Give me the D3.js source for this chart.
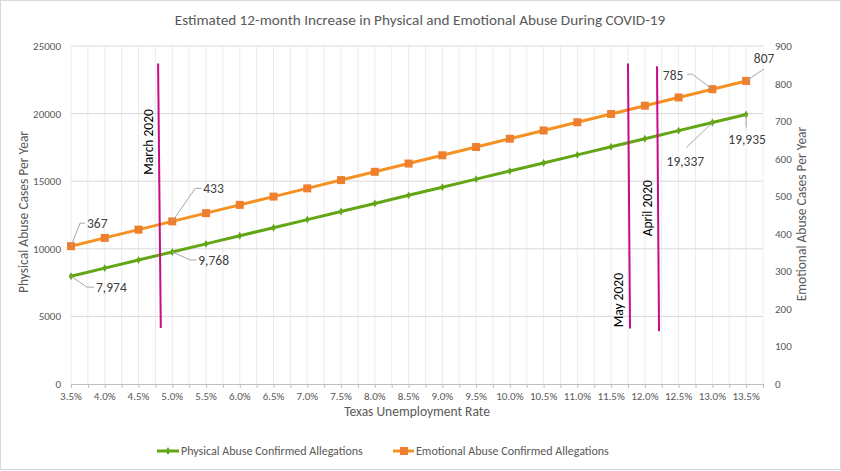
<!DOCTYPE html>
<html>
<head>
<meta charset="utf-8">
<script src="https://cdn.jsdelivr.net/npm/d3@7"></script>
<style>
  body { margin: 0; background: #fff; }
  svg { display: block; }
  text { font-family: Carlito, Calibri, Lato, "Open Sans", sans-serif; }
</style>
</head>
<body>
<svg id="chart"></svg>
<script>
// data
const rates = [3.5, 4.0, 4.5, 5.0, 5.5, 6.0, 6.5, 7.0, 7.5, 8.0, 8.5, 9.0, 9.5, 10.0, 10.5, 11.0, 11.5, 12.0, 12.5, 13.0, 13.5];
const physical = [7974, 8572, 9170, 9768, 10366, 10964, 11562, 12160, 12758, 13356, 13955, 14553, 15151, 15749, 16347, 16945, 17543, 18141, 18739, 19337, 19935];
const emotional = [367, 389, 411, 433, 455, 477, 499, 521, 543, 565, 587, 609, 631, 653, 675, 697, 719, 741, 763, 785, 807];
const leftTicks = [0, 5000, 10000, 15000, 20000, 25000];
const rightTicks = [0, 100, 200, 300, 400, 500, 600, 700, 800, 900];
const seriesNames = ["Physical Abuse Confirmed Allegations", "Emotional Abuse Confirmed Allegations"];
// month markers: unemployment rate at top/bottom of the line, extent on left axis
const months = ["March 2020", "May 2020", "April 2020"];
const monthRateTop = [4.79, 11.75, 12.18];
const monthRateBottom = [4.83, 11.78, 12.21];
const monthTop = [23700, 23700, 23500];
const monthBottom = [4150, 4100, 3900];
const monthLabelAt = [17900, 6200, 13000];
// labelled points: series, index
const labelled = [["e", 0], ["p", 0], ["e", 3], ["p", 3], ["e", 19], ["e", 20], ["p", 19], ["p", 20]];

const width = 841, height = 471;
const margin = { top: 46, right: 78, bottom: 87, left: 71 };
const innerWidth = width - margin.left - margin.right;
const innerHeight = height - margin.top - margin.bottom;

const green = "#62a515", orange = "#f59022", orangeMarker = "#ee7f2f", magenta = "#cc0a88";
const grey = "#595959";

const svg = d3.select("#chart").attr("width", width).attr("height", height);

svg.append("rect").attr("x", 0.5).attr("y", 0.5).attr("width", width - 1).attr("height", height - 2)
  .attr("fill", "#fff").attr("stroke", "#d9d9d9");

const g = svg.append("g").attr("transform", `translate(${margin.left},${margin.top})`);

const x = d3.scaleLinear().domain([3.5, 13.75]).range([0, innerWidth]);
const yL = d3.scaleLinear().domain([0, 25000]).range([innerHeight, 0]);
const yR = d3.scaleLinear().domain([0, 900]).range([innerHeight, 0]);

// vertical gridlines every half category
const halfSteps = d3.range(0, 42).map(i => 3.5 + i * 0.25);
g.selectAll(".vgrid").data(halfSteps).join("line").attr("class", "vgrid")
  .attr("x1", d => x(d)).attr("x2", d => x(d)).attr("y1", 0).attr("y2", innerHeight)
  .attr("stroke", "#ececec").attr("stroke-width", 1);

// horizontal gridlines
g.selectAll(".hgrid").data(leftTicks.slice(1)).join("line").attr("class", "hgrid")
  .attr("x1", 0).attr("x2", innerWidth).attr("y1", d => yL(d)).attr("y2", d => yL(d))
  .attr("stroke", "#d9d9d9");

// x axis (ticks only, labels below)
const xAxis = d3.axisBottom(x).tickValues(halfSteps).tickSize(4).tickFormat("");
const xg = g.append("g").attr("transform", `translate(0,${innerHeight})`).call(xAxis);
xg.select(".domain").attr("stroke", "#bfbfbf");
xg.selectAll(".tick line").attr("stroke", "#bfbfbf");
xg.selectAll(".tick text").remove();
g.selectAll(".xlab").data(rates).join("text").attr("class", "xlab")
  .attr("x", d => x(d)).attr("y", innerHeight + 16).attr("text-anchor", "middle")
  .attr("font-size", 11).attr("fill", grey).text(d => d.toFixed(1) + "%");

// y axes labels
g.selectAll(".ylab").data(leftTicks).join("text").attr("class", "ylab")
  .attr("x", -10).attr("y", d => yL(d) + 4).attr("text-anchor", "end")
  .attr("font-size", 11).attr("fill", grey).text(d => d);
g.selectAll(".yrlab").data(rightTicks).join("text").attr("class", "yrlab")
  .attr("x", innerWidth + 12).attr("y", d => yR(d) + 4).attr("text-anchor", "start")
  .attr("font-size", 11).attr("fill", grey).text(d => d);

// axis titles
svg.append("text").attr("transform", `translate(28,${margin.top + innerHeight / 2 - 3}) rotate(-90)`)
  .attr("text-anchor", "middle").attr("font-size", 13.5).attr("fill", grey)
  .text("Physical Abuse Cases Per Year");
svg.append("text").attr("transform", `translate(806,${margin.top + innerHeight / 2 - 1}) rotate(-90)`)
  .attr("text-anchor", "middle").attr("font-size", 13.5).attr("fill", grey)
  .text("Emotional Abuse Cases Per Year");
svg.append("text").attr("x", 417).attr("y", 416).attr("text-anchor", "middle")
  .attr("font-size", 13.5).attr("fill", grey).text("Texas Unemployment Rate");

// title
svg.append("text").attr("x", 420).attr("y", 25).attr("text-anchor", "middle")
  .attr("font-size", 15.2).attr("fill", grey)
  .text("Estimated 12-month Increase in Physical and Emotional Abuse During COVID-19");

// lines
const pData = rates.map((r, i) => [r, physical[i]]);
const eData = rates.map((r, i) => [r, emotional[i]]);
g.append("path").datum(pData).attr("fill", "none").attr("stroke", green).attr("stroke-width", 3)
  .attr("d", d3.line().x(d => x(d[0])).y(d => yL(d[1])));
g.append("path").datum(eData).attr("fill", "none").attr("stroke", orange).attr("stroke-width", 3)
  .attr("d", d3.line().x(d => x(d[0])).y(d => yR(d[1])));

const diamond = d3.symbol().type(d3.symbolDiamond).size(18);
g.selectAll(".pm").data(pData).join("path").attr("class", "pm")
  .attr("transform", d => `translate(${x(d[0])},${yL(d[1])})`).attr("d", diamond).attr("fill", green);
g.selectAll(".em").data(eData).join("rect").attr("class", "em")
  .attr("x", d => x(d[0]) - 4).attr("y", d => yR(d[1]) - 4).attr("width", 8).attr("height", 8)
  .attr("fill", orangeMarker);

// month markers
months.forEach((m, i) => {
  g.append("line")
    .attr("x1", x(monthRateTop[i])).attr("y1", yL(monthTop[i]))
    .attr("x2", x(monthRateBottom[i])).attr("y2", yL(monthBottom[i]))
    .attr("stroke", magenta).attr("stroke-width", 2);
  const lx = (x(monthRateTop[i]) + x(monthRateBottom[i])) / 2 - 6;
  g.append("text").attr("transform", `translate(${lx},${yL(monthLabelAt[i])}) rotate(-90)`)
    .attr("text-anchor", "middle").attr("font-size", 13.5).attr("fill", "#000")
    .text(m);
});

// data labels with leader lines (offsets in px from the point)
const leaders = [
  { path: [[0, 0], [9, -23], [14, -23]], tx: 16, ty: -23, anchor: "start" },
  { path: [[0, 0], [16, 11], [23, 11]], tx: 25, ty: 11, anchor: "start" },
  { path: [[0, 0], [23, -33], [29, -33]], tx: 31, ty: -33, anchor: "start" },
  { path: [[0, 0], [18, 8], [24, 8]], tx: 26, ty: 8, anchor: "start" },
  { path: [[0, 0], [-20, -15], [-25, -15]], tx: -29, ty: -14, anchor: "end" },
  { path: [[0, 0], [18, -12]], tx: 18, ty: -23, anchor: "middle" },
  { path: [[0, 0], [-26, 25]], tx: -27, ty: 38, anchor: "middle" },
  { path: [[0, 0], [0, 13]], tx: 1, ty: 25, anchor: "middle" }
];
const fmt = d3.format(",");
labelled.forEach(([s, i], k) => {
  const px = x(rates[i]);
  const py = s === "p" ? yL(physical[i]) : yR(emotional[i]);
  const val = s === "p" ? fmt(physical[i]) : String(emotional[i]);
  const L = leaders[k];
  g.append("path").attr("fill", "none").attr("stroke", "#a6a6a6").attr("stroke-width", 1)
    .attr("d", d3.line()(L.path.map(p => [px + p[0], py + p[1]])));
  g.append("text").attr("x", px + L.tx).attr("y", py + L.ty + 5)
    .attr("text-anchor", L.anchor).attr("font-size", 13.5).attr("fill", "#404040").text(val);
});

// legend
const legend = svg.append("g").attr("transform", "translate(0,451)");
legend.append("line").attr("x1", 157).attr("x2", 179).attr("stroke", green).attr("stroke-width", 3);
legend.append("path").attr("transform", "translate(168,0)").attr("d", diamond).attr("fill", green);
legend.append("text").attr("x", 181).attr("y", 4).attr("font-size", 12).attr("fill", grey).text(seriesNames[0]);
legend.append("line").attr("x1", 393).attr("x2", 414).attr("stroke", orange).attr("stroke-width", 3);
legend.append("rect").attr("x", 400).attr("y", -4).attr("width", 8).attr("height", 8).attr("fill", orangeMarker);
legend.append("text").attr("x", 416).attr("y", 4).attr("font-size", 12).attr("fill", grey).text(seriesNames[1]);
</script>
</body>
</html>
